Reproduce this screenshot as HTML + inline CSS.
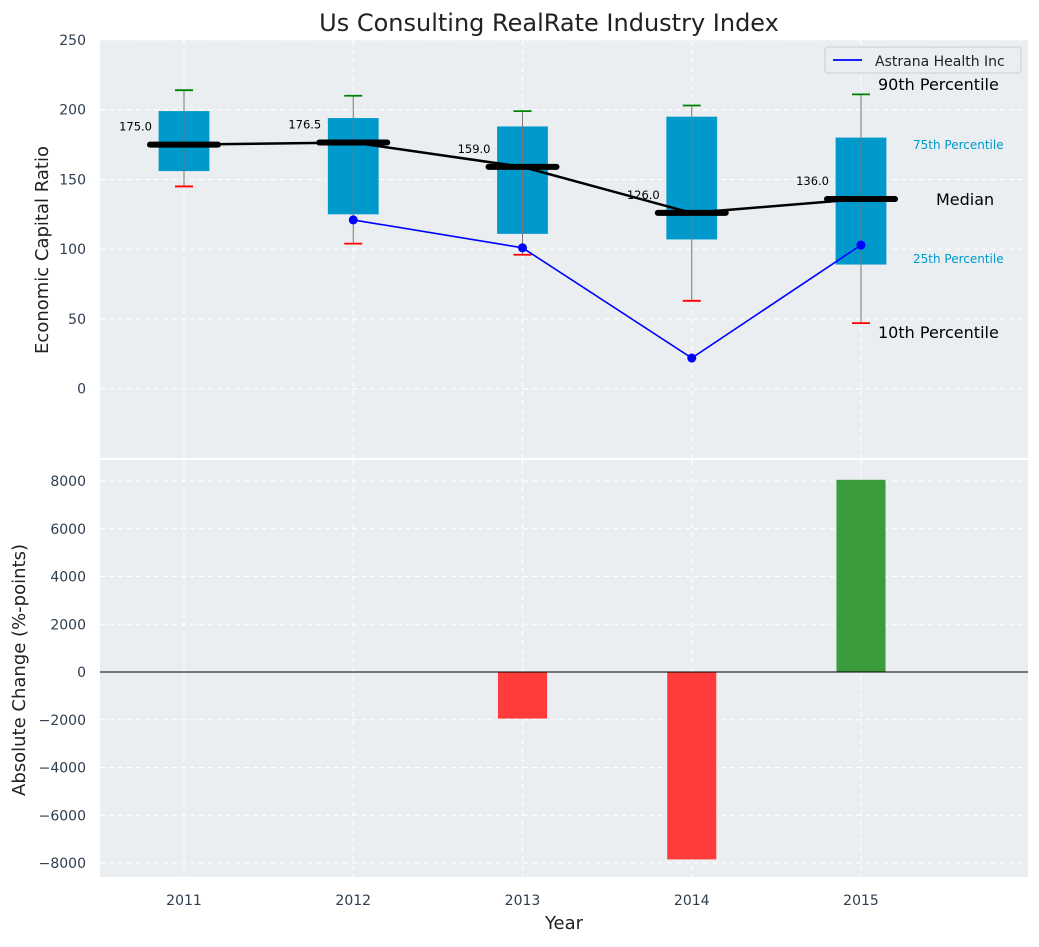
<!DOCTYPE html>
<html><head><meta charset="utf-8"><style>
body{margin:0;background:#fff;}
svg{font-family:"DejaVu Sans","Liberation Sans",sans-serif;}
</style></head><body>
<svg id="c" width="1039" height="942" xmlns="http://www.w3.org/2000/svg"></svg>
<script>
const years=[2011,2012,2013,2014,2015];
const p10=[145,104,96,63,47];
const p25=[156,125,111,107,89];
const median=[175,176.5,159,126,136];
const p75=[199,194,188,195,180];
const p90=[214,210,199,203,211];
const company=[null,121,101,22,103];
const changes=[null,null,-1950,-7850,8050];
const topTicks=[0,50,100,150,200,250];
const botTicks=[-8000,-6000,-4000,-2000,0,2000,4000,6000,8000];

const NS="http://www.w3.org/2000/svg",svg=document.getElementById('c');
function el(t,a,txt,p){const e=document.createElementNS(NS,t);for(const k in a)e.setAttribute(k,a[k]);if(txt!=null)e.textContent=txt;(p||svg).appendChild(e);return e;}
const L=100,R=1028;
const px=169.25;
const x=v=>184+(v-2011)*px;
const yT=v=>388.7-v*1.395;
const yB=v=>672-v*(191/8000);

let e=el('rect',{x:L,y:40,width:R-L,height:418,fill:'#eaeef0'});

e=el('rect',{x:L,y:460,width:R-L,height:417,fill:'#eaeef0'});

years.forEach(v=>{el('line',{x1:x(v),x2:x(v),y1:40,y2:458,stroke:'#fff','stroke-dasharray':'5,4','stroke-width':1});el('line',{x1:x(v),x2:x(v),y1:460,y2:877,stroke:'#fff','stroke-dasharray':'5,4','stroke-width':1});});
topTicks.forEach(v=>{el('line',{x1:L,x2:R,y1:yT(v),y2:yT(v),stroke:'#fff','stroke-dasharray':'5,4'});
 e=el('text',{x:86,y:yT(v)+5,'text-anchor':'end','font-size':14,fill:'#2d3e50'},v);});
botTicks.forEach(v=>{el('line',{x1:L,x2:R,y1:yB(v),y2:yB(v),stroke:'#fff','stroke-dasharray':'5,4'});
 e=el('text',{x:86,y:yB(v)+5,'text-anchor':'end','font-size':14,fill:'#2d3e50'},v<0?'\u2212'+(-v):v);});
years.forEach(v=>{e=el('text',{x:x(v),y:905,'text-anchor':'middle','font-size':14,fill:'#2d3e50'},v);});

const bw=0.3*px;
years.forEach((v,i)=>{
 const cx=x(v);
 e=el('rect',{x:cx-bw/2,y:yT(p75[i]),width:bw,height:yT(p25[i])-yT(p75[i]),fill:'#0099cc'});
 
 e=el('line',{x1:cx,x2:cx,y1:yT(p90[i]),y2:yT(p10[i]),stroke:'#777','stroke-width':1});
 
 e=el('line',{x1:cx-9,x2:cx+9,y1:yT(p90[i]),y2:yT(p90[i]),stroke:'green','stroke-width':1.8});
 
 e=el('line',{x1:cx-9,x2:cx+9,y1:yT(p10[i]),y2:yT(p10[i]),stroke:'red','stroke-width':1.8});
 
});
e=el('polyline',{points:years.map((v,i)=>x(v)+','+yT(median[i])).join(' '),fill:'none',stroke:'#000','stroke-width':2.5});

years.forEach((v,i)=>{
 e=el('line',{x1:x(v)-34,x2:x(v)+34,y1:yT(median[i]),y2:yT(median[i]),stroke:'#000','stroke-width':6,'stroke-linecap':'round'});
 
 e=el('text',{x:x(v)-32,y:yT(median[i])-14,'text-anchor':'end','font-size':11.5,fill:'#000'},median[i].toFixed(1));
 
});
const cp=years.map((v,i)=>company[i]==null?null:[x(v),yT(company[i])]).filter(p=>p);
e=el('polyline',{points:cp.map(p=>p.join(',')).join(' '),fill:'none',stroke:'blue','stroke-width':1.6});

cp.forEach(p=>{e=el('circle',{cx:p[0],cy:p[1],r:4.5,fill:'blue'});});

const ann=[[878,90,'90th Percentile',16,'#000'],[913,149,'75th Percentile',12,'#0099cc'],[936,205,'Median',16,'#000'],[913,263,'25th Percentile',12,'#0099cc'],[878,338,'10th Percentile',16,'#000']];
ann.forEach(a=>{e=el('text',{x:a[0],y:a[1],'font-size':a[3],fill:a[4]},a[2]);});

const lg=el('g',{});
el('rect',{x:825,y:47,width:196,height:26,rx:3,fill:'#eaeef0',stroke:'#ccc'},null,lg);
el('line',{x1:833,x2:862,y1:60,y2:60,stroke:'blue','stroke-width':1.8},null,lg);
el('text',{x:875,y:66,'font-size':14,fill:'#222'},'Astrana Health Inc',lg);

years.forEach((v,i)=>{if(changes[i]==null)return;
 const y0=yB(0),y1=yB(changes[i]);
 e=el('rect',{x:x(v)-0.29*px/2,y:Math.min(y0,y1),width:0.29*px,height:Math.abs(y1-y0),fill:changes[i]<0?'#ff3b3b':'#3a9c3c'});
 });
el('line',{x1:L,x2:R,y1:yB(0),y2:yB(0),stroke:'#000','stroke-width':1});

e=el('text',{x:549,y:31,'text-anchor':'middle','font-size':24,fill:'#222'},'Us Consulting RealRate Industry Index');
e=el('text',{x:0,y:0,'text-anchor':'middle','font-size':18,fill:'#222',transform:'translate(48,250) rotate(-90)'},'Economic Capital Ratio');
e=el('text',{x:0,y:0,'text-anchor':'middle','font-size':18,fill:'#222',transform:'translate(25,670) rotate(-90)'},'Absolute Change (%-points)');
e=el('text',{x:564,y:929,'text-anchor':'middle','font-size':18,fill:'#222'},'Year');
</script>
</body></html>
